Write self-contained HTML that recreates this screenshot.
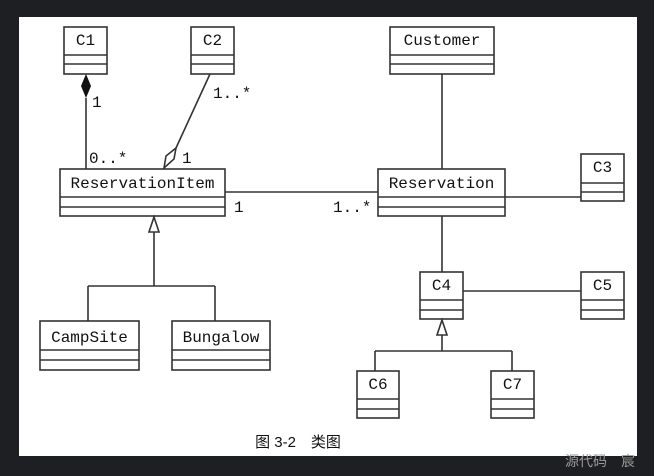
<!DOCTYPE html>
<html><head><meta charset="utf-8"><style>
html,body{margin:0;padding:0;background:#1e1f22;width:654px;height:476px;overflow:hidden}
svg{display:block}
text.m{font-family:"Liberation Mono","DejaVu Sans Mono",monospace;font-size:16px;fill:#111}
</style></head><body>
<svg width="654" height="476" viewBox="0 0 654 476">
<rect x="19" y="17" width="618" height="439" fill="#fff"/>
<g fill="none" stroke="#333" stroke-width="1.6">
<rect x="64" y="27" width="43" height="47"/><line x1="64" y1="55" x2="107" y2="55"/><line x1="64" y1="64" x2="107" y2="64"/>
<rect x="191" y="27" width="43" height="47"/><line x1="191" y1="55" x2="234" y2="55"/><line x1="191" y1="64" x2="234" y2="64"/>
<rect x="390" y="27" width="104" height="47"/><line x1="390" y1="55" x2="494" y2="55"/><line x1="390" y1="64" x2="494" y2="64"/>
<rect x="60" y="169" width="165" height="47"/><line x1="60" y1="197" x2="225" y2="197"/><line x1="60" y1="207" x2="225" y2="207"/>
<rect x="378" y="169" width="127" height="47"/><line x1="378" y1="197" x2="505" y2="197"/><line x1="378" y1="207" x2="505" y2="207"/>
<rect x="581" y="154" width="43" height="47"/><line x1="581" y1="183" x2="624" y2="183"/><line x1="581" y1="192" x2="624" y2="192"/>
<rect x="420" y="272" width="43" height="47"/><line x1="420" y1="300" x2="463" y2="300"/><line x1="420" y1="310" x2="463" y2="310"/>
<rect x="581" y="272" width="43" height="47"/><line x1="581" y1="300" x2="624" y2="300"/><line x1="581" y1="310" x2="624" y2="310"/>
<rect x="40" y="321" width="99" height="49"/><line x1="40" y1="350" x2="139" y2="350"/><line x1="40" y1="360" x2="139" y2="360"/>
<rect x="172" y="321" width="98" height="49"/><line x1="172" y1="350" x2="270" y2="350"/><line x1="172" y1="360" x2="270" y2="360"/>
<rect x="357" y="371" width="42" height="47"/><line x1="357" y1="399" x2="399" y2="399"/><line x1="357" y1="409" x2="399" y2="409"/>
<rect x="491" y="371" width="43" height="47"/><line x1="491" y1="399" x2="534" y2="399"/><line x1="491" y1="409" x2="534" y2="409"/>
<line x1="86" y1="98" x2="86" y2="169"/>
<line x1="210" y1="74" x2="176" y2="148"/>
<polygon points="176,148 174,159 164,168 166,156" fill="#fff"/>
<line x1="442" y1="74" x2="442" y2="169"/>
<line x1="442" y1="216" x2="442" y2="272"/>
<line x1="225" y1="192" x2="378" y2="192"/>
<line x1="505" y1="197" x2="581" y2="197"/>
<line x1="463" y1="291" x2="581" y2="291"/>
<line x1="154" y1="232" x2="154" y2="286"/>
<line x1="88" y1="286" x2="215" y2="286"/><line x1="88" y1="286" x2="88" y2="321"/><line x1="215" y1="286" x2="215" y2="321"/>
<polygon points="154,217 149,232 159,232" fill="#fff"/>
<line x1="442" y1="335" x2="442" y2="351"/>
<line x1="375" y1="351" x2="512" y2="351"/><line x1="375" y1="351" x2="375" y2="371"/><line x1="512" y1="351" x2="512" y2="371"/>
<polygon points="442,320 437,335 447,335" fill="#fff"/>
</g>
<polygon points="86,74 81,86 86,98 91,86" fill="#111"/>
<text class="m" x="85.5" y="45" text-anchor="middle">C1</text>
<text class="m" x="212.5" y="45" text-anchor="middle">C2</text>
<text class="m" x="442" y="45" text-anchor="middle">Customer</text>
<text class="m" x="142.5" y="188" text-anchor="middle">ReservationItem</text>
<text class="m" x="441.5" y="188" text-anchor="middle">Reservation</text>
<text class="m" x="602.5" y="172" text-anchor="middle">C3</text>
<text class="m" x="441.5" y="290" text-anchor="middle">C4</text>
<text class="m" x="602.5" y="290" text-anchor="middle">C5</text>
<text class="m" x="89.5" y="342" text-anchor="middle">CampSite</text>
<text class="m" x="221" y="342" text-anchor="middle">Bungalow</text>
<text class="m" x="378" y="389" text-anchor="middle">C6</text>
<text class="m" x="512.5" y="389" text-anchor="middle">C7</text>
<text class="m" x="92" y="107">1</text>
<text class="m" x="213" y="98">1..*</text>
<text class="m" x="89" y="163">0..*</text>
<text class="m" x="182" y="163">1</text>
<text class="m" x="234" y="212">1</text>
<text class="m" x="333" y="212">1..*</text>
<text x="298" y="447" text-anchor="middle" style="font-family:'Liberation Sans','Noto Sans CJK SC',sans-serif;font-size:15px;fill:#111">图 3-2　类图</text>
<text x="565" y="466" style="font-family:'Liberation Sans','Noto Sans CJK SC',sans-serif;font-size:14px;fill:#999">源代码　宸</text>
</svg>
</body></html>
